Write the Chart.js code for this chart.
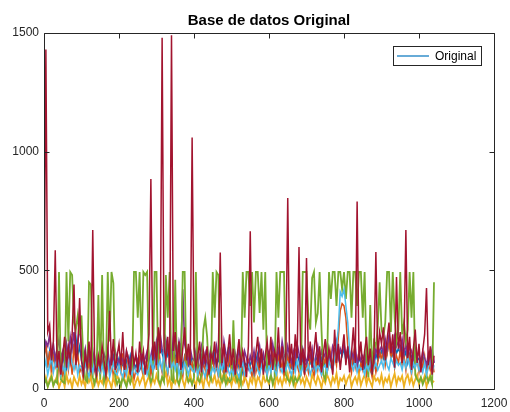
<!DOCTYPE html>
<html><head><meta charset="utf-8">
<script src="https://cdn.jsdelivr.net/npm/chart.js@4"></script>
<style>html,body{margin:0;padding:0;background:#fff}</style>
</head><body>
<canvas id="c" width="510" height="412"></canvas>
<script>
// sample positions (x axis)
const xValues = [
0,5,10,15,20,25,30,35,40,45,50,55,60,65,70,75,80,85,90,95,
100,105,110,115,120,125,130,135,140,145,150,155,160,165,170,175,180,185,190,195,
200,205,210,215,220,225,230,235,240,245,250,255,260,265,270,275,280,285,290,295,
300,305,310,315,320,325,330,335,340,345,350,355,360,365,370,375,380,385,390,395,
400,405,410,415,420,425,430,435,440,445,450,455,460,465,470,475,480,485,490,495,
500,505,510,515,520,525,530,535,540,545,550,555,560,565,570,575,580,585,590,595,
600,605,610,615,620,625,630,635,640,645,650,655,660,665,670,675,680,685,690,695,
700,705,710,715,720,725,730,735,740,745,750,755,760,765,770,775,780,785,790,795,
800,805,810,815,820,825,830,835,840,845,850,855,860,865,870,875,880,885,890,895,
900,905,910,915,920,925,930,935,940,945,950,955,960,965,970,975,980,985,990,995,
1000,1005,1010,1015,1020,1025,1030,1035,1040];

const xTicks = [0,200,400,600,800,1000,1200];
const yTicks = [0,500,1000,1500];
const legendLabel = 'Original';
const titleText = 'Base de datos Original';

const original = [
140,180,110,160,90,150,120,170,100,130, 110,150,90,170,130,200,160,220,140,180,
120,90,140,100,130,80,150,110,90,120, 100,130,80,120,150,90,110,140,80,100,
130,90,110,70,120,100,140,80,110,90, 120,80,100,140,90,130,110,80,150,100,
170,130,190,150,120,180,140,160,110,150, 130,170,110,150,90,140,120,100,150,110,
90,130,110,80,140,100,120,70,110,130, 110,150,90,130,100,140,80,120,160,100,
120,80,110,140,90,130,70,110,100,120, 100,130,90,120,150,80,110,140,100,90,
130,100,150,110,90,140,120,160,100,110, 140,110,90,130,100,150,120,80,130,110,
100,130,110,150,90,120,140,100,130,90, 120,160,110,140,100,150,180,130,160,140,
170,120,150,100,140,110,160,90,130,110, 120,90,140,110,80,130,100,150,120,140,
160,130,180,150,200,160,140,190,150,170, 150,180,130,160,110,150,140,100,150,120,
130,90,140,110,80,130,100,150,110];

const series2 = [
120,200,90,160,60,140,100,180,70,130, 50,110,160,80,140,60,190,100,150,70,
90,40,130,70,110,50,150,80,40,100, 60,120,80,40,100,70,130,50,90,60,
110,70,150,50,90,130,60,100,40,80, 70,130,90,50,110,80,140,60,100,160,
80,190,110,70,150,100,60,130,90,170, 120,60,150,90,50,130,80,160,70,110,
60,100,140,70,40,110,80,50,120,90, 130,70,100,50,150,90,60,120,80,140,
70,110,50,90,130,60,100,40,80,120, 90,50,130,70,110,60,150,80,100,50,
120,70,160,90,60,140,80,110,50,100, 140,80,120,60,170,100,70,130,90,60,
110,70,150,90,50,120,80,140,60,100, 130,70,110,160,80,140,100,220,330,360,
350,300,180,120,70,150,90,130,60,110, 80,140,60,120,90,50,130,70,110,160,
120,180,100,150,200,130,170,90,140,110, 160,100,140,80,180,120,60,150,90,130,
70,120,90,140,60,110,80,130,70];

const series3 = [
20,50,10,40,60,15,35,55,5,30, 45,10,60,25,40,5,50,30,15,55,
20,40,10,65,30,50,5,35,55,15, 40,25,60,10,45,30,5,50,20,60,
35,10,55,40,15,65,25,45,5,30, 50,20,40,60,10,35,55,15,45,25,
60,30,10,50,40,70,20,45,5,55, 25,45,15,60,35,10,50,30,65,20,
40,10,55,25,45,5,60,35,15,50, 30,60,20,40,10,55,35,65,25,45,
15,50,30,60,10,40,20,55,35,5, 45,25,65,15,50,35,10,60,30,40,
20,55,35,10,60,25,45,15,50,30, 65,20,40,55,10,35,60,25,45,15,
50,30,10,60,40,20,55,35,5,45, 25,60,40,15,50,30,65,10,45,35,
55,20,45,60,10,35,50,25,65,15, 40,60,20,50,30,10,55,35,45,25,
60,15,45,30,55,10,40,65,20,50, 35,55,10,45,60,25,50,15,40,60,
20,45,30,55,10,40,60,25,35];

const series4 = [
150,200,180,230,140,190,120,170,210,130, 160,110,190,140,220,170,240,150,200,260,
180,130,170,100,150,120,160,90,140,110, 130,100,150,120,170,90,140,110,160,130,
100,140,120,90,160,130,100,150,110,140, 120,90,150,110,130,160,100,140,180,120,
200,150,230,170,140,210,160,190,130,220, 180,140,200,160,420,190,150,110,170,130,
120,160,100,140,180,110,150,90,130,170, 140,110,180,130,160,100,200,150,120,170,
130,90,150,110,170,120,100,160,130,90, 140,110,160,100,130,180,120,150,90,140,
160,120,190,140,110,170,130,200,150,120, 180,140,110,160,130,190,150,100,170,140,
110,150,130,170,100,140,180,120,160,130, 150,190,140,120,180,160,200,130,170,150,
190,140,170,120,160,130,180,100,150,120, 140,110,160,130,100,150,120,170,140,160,
180,150,210,170,230,190,160,220,180,200, 170,210,150,190,130,180,160,120,170,140,
150,110,160,130,100,150,120,170,110];

const series5 = [
20,40,10,30,50,15,35,25,493,40, 30,25,493,200,493,480,280,250,310,230,
310,120,40,30,450,440,50,20,60,396, 40,480,30,60,493,200,493,446,50,20,
40,15,50,30,10,45,25,60,493,493, 300,493,150,493,480,493,60,30,50,493,
493,40,20,50,30,480,300,493,40,30, 460,40,20,50,493,493,60,30,40,20,
50,493,40,30,60,250,300,220,60,40, 493,300,493,480,50,30,60,20,45,30,
40,290,60,30,50,20,493,300,493,493, 350,493,280,493,493,320,493,250,493,40,
30,60,20,50,493,300,493,493,493,60, 40,30,60,20,50,30,45,60,493,493,
493,300,250,468,493,280,320,493,250,60, 40,120,493,380,493,493,350,493,493,420,
493,380,493,493,300,493,493,350,493,493, 300,493,120,50,354,60,200,180,260,450,
250,220,280,493,493,240,493,300,200,250, 493,230,280,200,250,493,300,493,60,40,
30,50,20,40,60,30,50,20,450];

const series6 = [
80,120,60,100,140,70,110,90,130,60, 100,70,130,90,150,110,80,120,60,100,
90,60,110,80,50,100,70,120,60,90, 70,100,60,90,120,50,80,110,70,60,
100,70,50,90,60,110,80,60,100,70, 60,90,120,70,100,60,90,130,80,110,
140,90,120,80,150,100,70,130,90,110, 80,120,60,100,70,110,90,60,100,80,
70,100,60,90,110,70,50,100,80,60, 90,70,110,60,100,80,120,70,90,60,
80,60,100,70,50,90,110,60,80,100, 70,90,60,110,80,60,100,70,90,60,
100,70,120,80,60,110,90,70,100,80, 110,80,60,100,70,120,90,60,100,70,
80,100,60,90,120,70,100,80,60,90, 100,70,120,90,80,130,180,260,410,390,
420,350,280,160,100,80,120,70,100,80, 90,60,100,80,120,70,90,110,80,100,
120,90,140,100,80,130,110,90,120,100, 110,80,120,90,140,100,70,110,90,120,
80,100,70,110,60,90,120,70,100];

const series7 = [
180,1430,240,270,120,200,585,90,160,60, 140,220,90,180,120,230,440,100,170,383,
120,60,150,90,200,70,670,110,60,140, 90,180,120,60,150,330,100,210,80,140,
190,100,240,80,160,120,60,180,100,150, 70,200,110,160,60,140,230,885,120,200,
100,260,150,1480,180,120,220,90,1490,160, 240,110,200,80,170,260,120,190,100,1060,
170,90,140,200,70,160,110,180,60,150, 120,200,90,160,575,110,190,70,150,230,
100,170,60,140,210,90,160,120,50,180, 665,110,70,150,220,90,170,60,140,200,
100,220,80,160,120,260,90,180,70,150, 805,110,190,80,230,130,598,100,170,60,
552,120,200,90,160,240,100,180,70,150, 210,90,170,120,60,250,110,190,80,160,
230,100,180,70,150,260,110,790,120,200, 80,160,220,100,170,60,150,577,130,240,
190,260,120,210,280,150,230,90,472,170, 240,110,200,670,130,220,80,170,250,110,
190,70,160,230,425,100,180,60,140];

const FONT = '"Liberation Sans", Arial, Helvetica, sans-serif';
const INK = '#262626';

function pts(ys){ return xValues.map((x,i)=>({x:x, y:ys[i]})); }
function ds(label, ys, color, order, w){
  return {label, data: pts(ys), borderColor: color, backgroundColor: color,
    borderWidth: w, pointRadius: 0, fill: false, tension: 0, order};
}

const framePlugin = {
  id: 'frame',
  afterDatasetsDraw(chart){
    const {ctx, chartArea:a, scales:{x, y}} = chart;
    const L = Math.round(a.left)+0.5, R = Math.round(a.right)+0.5,
          T = Math.round(a.top)+0.5, B = Math.round(a.bottom)+0.5;
    ctx.save();
    ctx.strokeStyle = INK; ctx.lineWidth = 1;
    ctx.beginPath();
    ctx.rect(L, T, R-L, B-T);
    xTicks.forEach(v=>{
      const px = Math.round(x.getPixelForValue(v))+0.5;
      ctx.moveTo(px, B); ctx.lineTo(px, B-5);
      ctx.moveTo(px, T); ctx.lineTo(px, T+5);
    });
    yTicks.forEach(v=>{
      const py = Math.round(y.getPixelForValue(v))+0.5;
      ctx.moveTo(L, py); ctx.lineTo(L+5, py);
      ctx.moveTo(R, py); ctx.lineTo(R-5, py);
    });
    ctx.stroke();
    // title
    ctx.fillStyle = '#000';
    ctx.font = 'bold 15px ' + FONT;
    ctx.textAlign = 'center'; ctx.textBaseline = 'alphabetic';
    ctx.fillText(titleText, (a.left + a.right)/2, 25);
    // legend box
    ctx.fillStyle = '#fff';
    ctx.fillRect(393.5, 46.5, 88, 19);
    ctx.strokeStyle = INK;
    ctx.strokeRect(393.5, 46.5, 88, 19);
    ctx.strokeStyle = '#0072BD'; ctx.lineWidth = 1.2;
    ctx.beginPath(); ctx.moveTo(397, 56); ctx.lineTo(429, 56); ctx.stroke();
    ctx.fillStyle = '#000';
    ctx.font = '12px ' + FONT;
    ctx.textAlign = 'left'; ctx.textBaseline = 'middle';
    ctx.fillText(legendLabel, 435, 56.5);
    ctx.restore();
  }
};

new Chart(document.getElementById('c'), {
  type: 'line',
  data: {
    datasets: [
      ds(legendLabel, original, '#0072BD', 7, 1.5),
      ds('2', series2, '#D95319', 6, 1.5),
      ds('3', series3, '#EDB120', 5, 1.8),
      ds('4', series4, '#7E2F8E', 4, 1.6),
      ds('5', series5, '#77AC30', 3, 1.8),
      ds('6', series6, '#4DBEEE', 2, 1.5),
      ds('7', series7, '#A2142F', 1, 1.5)
    ]
  },
  options: {
    responsive: false, animation: false, devicePixelRatio: 1,
    layout: {padding: {left: 0, right: 16, top: 33, bottom: 0}},
    plugins: {legend: {display: false}, title: {display: false}, tooltip: {enabled: false}},
    scales: {
      x: {type: 'linear', min: 0, max: 1200,
          grid: {display: false, drawTicks: false}, border: {display: false},
          ticks: {stepSize: 200, color: INK, font: {family: FONT, size: 12}, padding: 7, maxRotation: 0, autoSkip: false,
                  callback: v => String(v)},
          afterFit(s){ s.height = 23; s.paddingLeft = 0; s.paddingRight = 0; }},
      y: {type: 'linear', min: 0, max: 1500,
          grid: {display: false, drawTicks: false}, border: {display: false},
          ticks: {stepSize: 500, color: INK, font: {family: FONT, size: 12}, padding: 5,
                  callback: v => String(v)},
          afterFit(s){ s.width = 44; s.paddingTop = 0; s.paddingBottom = 0; }}
    }
  },
  plugins: [framePlugin]
});
</script>
</body></html>
